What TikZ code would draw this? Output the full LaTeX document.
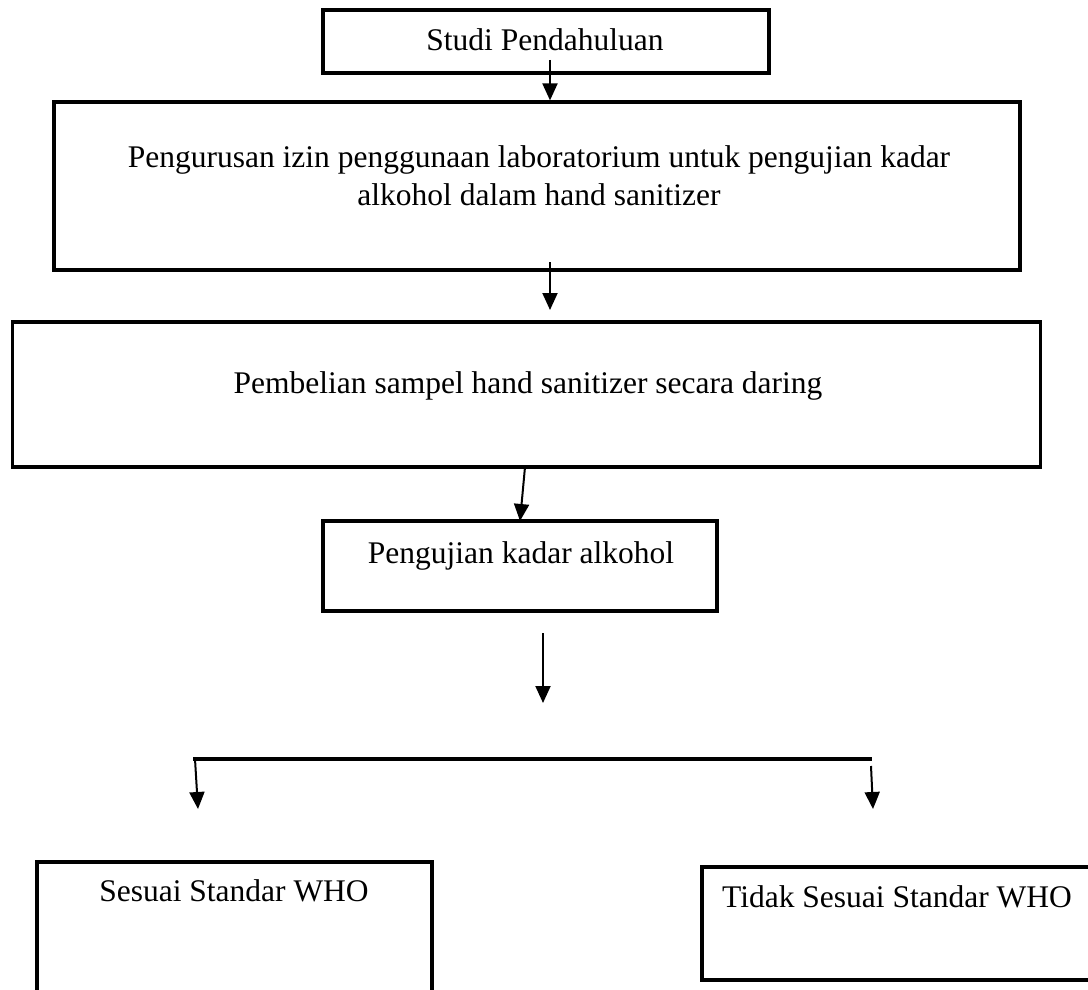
\documentclass[tikz,border=0pt]{standalone}
\usepackage{fontspec}
\setmainfont{Liberation Serif}
\usetikzlibrary{arrows.meta}
\tikzset{
  box/.style={draw=black, line width=3.2pt, rectangle, inner sep=0pt},
  txt/.style={inner sep=0pt, font=\fontsize{31.5}{38}\selectfont, align=center},
  arr/.style={draw=black, line width=2pt, -{Triangle[length=17pt,width=15pt]}},
  bar/.style={draw=black, line width=3.2pt}
}

\begin{document}
\begin{tikzpicture}[x=1pt, y=-1pt]
      \useasboundingbox (0,0) rectangle (1088,990);
      \begin{scope}
      \clip (0,0) rectangle (1088,990);
      % boxes
      \node[box, minimum width=446pt, minimum height=63pt] (b1) at (546,41.5) {};
      \node[box, minimum width=966pt, minimum height=168pt] (b2) at (537,186) {};
      \node[box, minimum width=1028pt, minimum height=145pt] (b3) at (526.5,394.5) {};
      \node[box, minimum width=394pt, minimum height=90pt] (b4) at (520,566) {};
      \node[box, minimum width=395pt, minimum height=150pt] (b5) at (234.5,937) {};
      \node[box, minimum width=400pt, minimum height=113pt] (b6) at (902,923.5) {};
      \end{scope}
      % texts
      \node[txt, anchor=base] (t1) at (545,51) {Studi Pendahuluan};
      \node[txt] (t2) at (539,176) {Pengurusan izin penggunaan laboratorium untuk pengujian kadar\\ alkohol dalam hand sanitizer};
      \node[txt, anchor=base] (t3) at (528,393) {Pembelian sampel hand sanitizer secara daring};
      \node[txt, anchor=base] (t4) at (521,563) {Pengujian kadar alkohol};
      \node[txt, anchor=base] (t5) at (234,901) {Sesuai Standar WHO};
      \node[txt, anchor=base] (t6) at (897,907) {Tidak Sesuai Standar WHO};
      % arrow ends
      \coordinate (a1) at (550,60);
      \coordinate (a2) at (550,262);
      \coordinate (a2e) at (550,310);
      \coordinate (a3) at (525,467);
      \coordinate (a3e) at (520,521);
      \coordinate (a4) at (543,633);
      \coordinate (a4e) at (543,703);
      \coordinate (hl) at (193,759);
      \coordinate (hr) at (872,759);
      \coordinate (l1) at (195,759);
      \coordinate (l1e) at (198,809);
      \coordinate (r1) at (871,766);
      \coordinate (r1e) at (873,809);
      % connectors
      \draw[arr] (a1) -- (a1 |- b2.north);
      \draw[arr] (a2) -- (a2e);
      \draw[arr] (a3) -- (a3e);
      \draw[arr] (a4) -- (a4e);
      \draw[bar] (hl) -- (hr);
      \draw[arr] (l1) -- (l1e);
      \draw[arr] (r1) -- (r1e);
    \end{tikzpicture}
\end{document}
